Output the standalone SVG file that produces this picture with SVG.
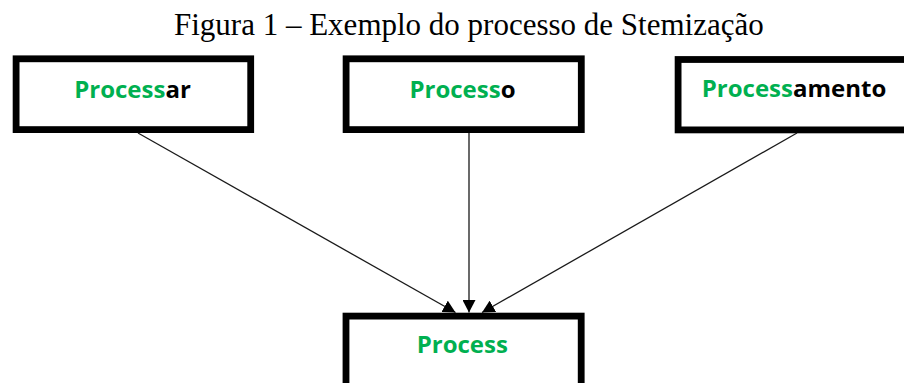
<svg xmlns="http://www.w3.org/2000/svg" width="904" height="383" viewBox="0 0 904 383">
  <style>
    .box { fill: #ffffff; stroke: #000000; stroke-width: 6.8; }
    .label { font-family: "Open Sans", "Liberation Sans", sans-serif; font-weight: 700; font-size: 24px; text-anchor: middle; fill: #000000; }
    .stem { fill: #00b050; }
    .title { font-family: "Liberation Serif", "Times New Roman", serif; font-size: 31px; fill: #000000; }
    .edge { stroke: #1a1a1a; stroke-width: 1.3; fill: none; marker-end: url(#arrow); }
  </style>
  <defs>
    <marker id="arrow" markerUnits="userSpaceOnUse" markerWidth="13" markerHeight="13" refX="12.5" refY="6.5" orient="auto">
      <path d="M0,0 L12.5,6.5 L0,13 z" fill="#000000"/>
    </marker>
  </defs>

  <rect width="904" height="383" fill="#ffffff"/>

  <text class="title" x="174" y="35">Figura 1 – Exemplo do processo de Stemização</text>

  <g id="node-processar">
    <rect class="box" x="16.1" y="58.8" width="234.6" height="70.8"/>
    <text class="label" x="132.5" y="98"><tspan class="stem">Process</tspan>ar</text>
  </g>

  <g id="node-processo">
    <rect class="box" x="346.1" y="58.8" width="235.2" height="70.8"/>
    <text class="label" x="462.5" y="97.5"><tspan class="stem">Process</tspan>o</text>
  </g>

  <g id="node-processamento">
    <rect class="box" x="678.1" y="59.5" width="235.2" height="70.4"/>
    <text class="label" x="794" y="97"><tspan class="stem">Process</tspan>amento</text>
  </g>

  <g id="node-process">
    <rect class="box" x="346" y="316.1" width="235.2" height="100"/>
    <text class="label" x="462.3" y="352.7"><tspan class="stem">Process</tspan></text>
  </g>

  <g id="connectors">
    <line class="edge" x1="138" y1="133" x2="455.5" y2="312.5"/>
    <line class="edge" x1="469" y1="133" x2="469" y2="312.5"/>
    <line class="edge" x1="797" y1="133" x2="482" y2="312.5"/>
  </g>
</svg>
